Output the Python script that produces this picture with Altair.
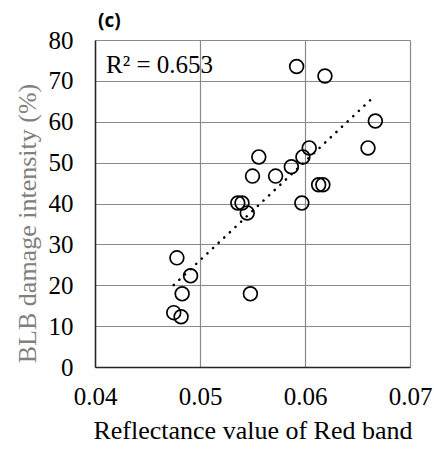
import altair as alt
import pandas as pd

red_band = [0.0592, 0.0619, 0.0667, 0.0660, 0.0604, 0.0598, 0.0556, 0.0587, 0.0550, 0.0572,
            0.0613, 0.0617, 0.0536, 0.0540, 0.0545, 0.0597, 0.0478, 0.0491, 0.0483, 0.0548,
            0.0475, 0.0482]
blb = [73.5, 71.2, 60.2, 53.6, 53.6, 51.4, 51.4, 49.0, 46.7, 46.7,
       44.6, 44.6, 40.1, 40.1, 37.7, 40.1, 26.7, 22.3, 17.9, 17.9,
       13.3, 12.3]
x_ticks = [0.04, 0.05, 0.06, 0.07]
y_ticks = [0, 10, 20, 30, 40, 50, 60, 70, 80]
r2_label = "R² = 0.653"
panel_label = "(c)"

df = pd.DataFrame({"x": red_band, "y": blb})

FONT = "'Times New Roman', 'Liberation Serif', serif"

x_enc = alt.X("x:Q", scale=alt.Scale(domain=[0.04, 0.07], nice=False, zero=False),
              axis=alt.Axis(values=x_ticks, format=".2f", title="Reflectance value of Red band",
                            labelFont=FONT, labelFontSize=25, labelColor="black",
                            titleFont=FONT, titleFontSize=26, titleFontWeight="normal",
                            titleColor="black", titlePadding=8, labelPadding=17,
                            ticks=False, domainColor="#262626", domainWidth=1.5,
                            gridColor="#8a8a8a", gridWidth=1.2, labelFlush=False))
y_enc = alt.Y("y:Q", scale=alt.Scale(domain=[0, 80], nice=False),
              axis=alt.Axis(values=y_ticks, title="BLB damage intensity (%)",
                            labelFont=FONT, labelFontSize=25, labelColor="black",
                            titleFont=FONT, titleFontSize=26, titleFontWeight="normal",
                            titleColor="#808080", titlePadding=8, labelPadding=22,
                            titleY=183,
                            ticks=False, domainColor="#262626", domainWidth=1.5,
                            gridColor="#8a8a8a", gridWidth=1.2, labelFlush=False))

points = alt.Chart(df).mark_point(shape="circle", filled=False, color="black",
                                  size=190, strokeWidth=1.7, opacity=1).encode(x=x_enc, y=y_enc)

trend = alt.Chart(df).transform_regression("x", "y").mark_line(
    color="black", strokeWidth=2.6, strokeDash=[0.1, 7.6], strokeCap="round"
).encode(x="x:Q", y="y:Q")

r2 = alt.Chart(pd.DataFrame({"t": [r2_label]})).mark_text(
    font=FONT, fontSize=25, align="left", baseline="alphabetic", color="black"
).encode(text="t:N", x=alt.value(11), y=alt.value(33))

lab = alt.Chart(pd.DataFrame({"t": [panel_label]})).mark_text(
    font="Open Sans", fontSize=19, fontWeight="bold", align="left", baseline="alphabetic", color="black"
).encode(text="t:N", x=alt.value(3), y=alt.value(-13))

chart = alt.layer(points, trend, r2, lab).properties(
    width=315, height=327,
    autosize=alt.AutoSizeParams(type="none"),
    padding={"left": 95, "top": 40, "right": 24, "bottom": 86},
    background="white",
).configure_view(stroke=None)

chart.save("out.html", embed_options={"renderer": "svg", "actions": False})
